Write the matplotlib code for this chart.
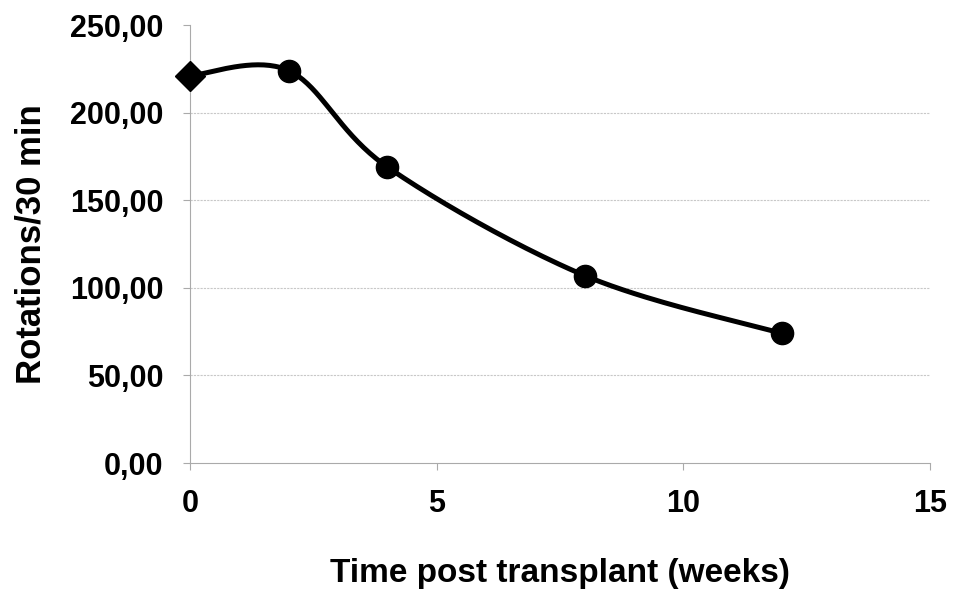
import numpy as np
import matplotlib
matplotlib.use("Agg")
import matplotlib.pyplot as plt
from matplotlib import font_manager

weeks = [0, 2, 4, 8, 12]
rotations = [221, 224, 169, 107, 74]
x_ticks = [0, 5, 10, 15]
y_ticks = [0, 50, 100, 150, 200, 250]

names = {f.name for f in font_manager.fontManager.ttflist}
fam = "Liberation Sans Narrow" if "Liberation Sans Narrow" in names else "Liberation Sans"
plt.rcParams["font.family"] = [fam, "DejaVu Sans"]


def excel_smooth(xs, ys, n=40):
    P = np.column_stack([xs, ys]).astype(float)
    Pe = np.vstack([P[0], P, P[-1]])
    out = []
    for i in range(len(P) - 1):
        p0, p1, p2, p3 = Pe[i], Pe[i + 1], Pe[i + 2], Pe[i + 3]
        c1 = p1 + (p2 - p0) / 6.0
        c2 = p2 - (p3 - p1) / 6.0
        t = np.linspace(0, 1, n)[:, None]
        seg = ((1 - t) ** 3) * p1 + 3 * ((1 - t) ** 2) * t * c1 + 3 * (1 - t) * t ** 2 * c2 + t ** 3 * p2
        out.append(seg if i == 0 else seg[1:])
    c = np.vstack(out)
    return c[:, 0], c[:, 1]


fig = plt.figure(figsize=(9.56, 6.01), dpi=100)
ax = fig.add_axes([0.1987, 0.2296, 0.9728 - 0.1987, 0.9584 - 0.2296])

sx, sy = excel_smooth(weeks, rotations)
ax.plot(sx, sy, color="black", lw=3.6, solid_capstyle="round", zorder=3, clip_on=False)
ax.plot(weeks[:1], rotations[:1], marker="D", color="black", ms=15, ls="none", zorder=4, clip_on=False)
ax.plot(weeks[1:], rotations[1:], marker="o", color="black", ms=16, ls="none", zorder=4, clip_on=False)

ax.set_xlim(0, 15)
ax.set_ylim(0, 250)
ax.set_xticks(x_ticks)
ax.set_yticks(y_ticks)
ax.set_xticklabels([str(v) for v in x_ticks])
ax.set_yticklabels([f"{v:.2f}".replace(".", ",") for v in y_ticks])

for y in y_ticks[1:-1]:
    ax.axhline(y, color="#c8c8c8", lw=0.8, ls=(0, (2, 1)), zorder=1)

for s in ["top", "right"]:
    ax.spines[s].set_visible(False)
for s in ["left", "bottom"]:
    ax.spines[s].set_color("#aaaaaa")
    ax.spines[s].set_linewidth(0.8)

ax.tick_params(axis="both", colors="#aaaaaa", length=5, width=0.8, labelcolor="black", labelsize=22)
ax.tick_params(axis="y", pad=14)
ax.tick_params(axis="x", pad=14)
for lab in ax.get_xticklabels() + ax.get_yticklabels():
    lab.set_fontweight("bold")

ax.set_xlabel("Time post transplant (weeks)", fontsize=24, fontweight="bold", labelpad=28)
ax.set_ylabel("Rotations/30 min", fontsize=25, fontweight="bold", labelpad=16)

fig.savefig("out.png", dpi=100, facecolor="white")
